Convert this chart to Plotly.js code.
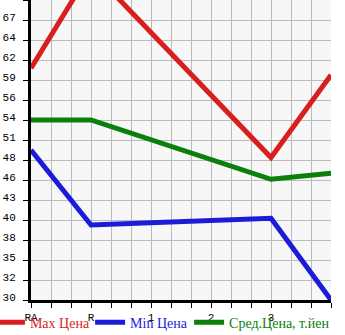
<!DOCTYPE html>
<html>
<head>
<meta charset="utf-8">
<script src="https://cdn.plot.ly/plotly-3.0.1.min.js"></script>
<style>html,body{margin:0;padding:0;background:#fff;}#chart{width:345px;height:335px;}</style>
</head>
<body>
<div id="chart"></div>
<script>
// Categories along the x axis (last slot is unlabeled)
var xLabels = ['RA', 'R', '1', '2', '3', ''];
// Series values (null = no value at that category)
var maxPrice = [60.9, 74.0, null, null, 49.0, 60.0];
var minPrice = [50.0, 40.0, null, null, 40.9, 30.0];
var avgPrice = [54.0, 54.0, null, null, 46.1, 46.9];
var seriesNames = ['Max Цена', 'Min Цена', 'Сред.Цена, т.йен'];
var seriesColors = ['#d81e1e', '#1c1cd8', '#0a800a'];
// Y tick labels as shown
var yTickLabels = ['30', '32', '35', '38', '40', '43', '46', '48', '51', '54', '56', '59', '62', '64', '67', ''];

var xIdx = xLabels.map(function (_, i) { return i; });
var yTickVals = yTickLabels.map(function (_, i) { return 30 + i * 40 / 15; });

var legendIds = ['legend', 'legend2', 'legend3'];
var legendX = [-0.137, 0.197, 0.527];

var series = [maxPrice, minPrice, avgPrice];
var traces = series.map(function (vals, i) {
  return {
    x: xIdx, y: vals, type: 'scatter', mode: 'lines', connectgaps: true,
    name: '<span style="color:' + seriesColors[i] + '">' + seriesNames[i] + '</span>',
    line: {color: seriesColors[i], width: 5},
    legend: legendIds[i],
    hoverinfo: 'skip'
  };
});

var tickFont = {family: 'Liberation Mono, DejaVu Sans Mono, monospace', size: 11, color: '#000'};
var layout = {
  width: 345, height: 335,
  margin: {l: 31, r: 14, t: 0, b: 35, pad: 0, autoexpand: false},
  paper_bgcolor: '#ffffff', plot_bgcolor: '#f7f7f7',
  showlegend: true,
  xaxis: {
    range: [0, 5], tickmode: 'array', tickvals: xIdx, ticktext: xLabels,
    ticks: 'outside', ticklen: 5, tickcolor: '#000', tickwidth: 1,
    showline: true, linecolor: '#000', linewidth: 3,
    showgrid: true, gridcolor: '#bbbbbb', gridwidth: 1, zeroline: false,
    tickfont: tickFont,
    minor: {tick0: 0, dtick: 1 / 3, ticks: 'outside', ticklen: 5, tickcolor: '#000', showgrid: true, gridcolor: '#bbbbbb', gridwidth: 1},
    fixedrange: true
  },
  yaxis: {
    range: [30, 70], tickmode: 'array', tickvals: yTickVals, ticktext: yTickLabels,
    ticks: 'outside', ticklen: 5, tickcolor: '#000', tickwidth: 1,
    showline: true, linecolor: '#000', linewidth: 3,
    showgrid: true, gridcolor: '#bbbbbb', gridwidth: 1, zeroline: false,
    tickfont: tickFont, ticklabelstandoff: 5, ticklabelshift: -3,
    fixedrange: true
  }
};
legendIds.forEach(function (id, i) {
  layout[id] = {
    orientation: 'h', x: legendX[i], xanchor: 'left', y: -0.022, yanchor: 'top',
    font: {family: 'Liberation Serif, Times New Roman, serif', size: 14, color: '#000'},
    bgcolor: 'rgba(0,0,0,0)', borderwidth: 0, itemwidth: 30
  };
});
Plotly.newPlot('chart', traces, layout, {staticPlot: true, displayModeBar: false});
</script>
</body>
</html>
